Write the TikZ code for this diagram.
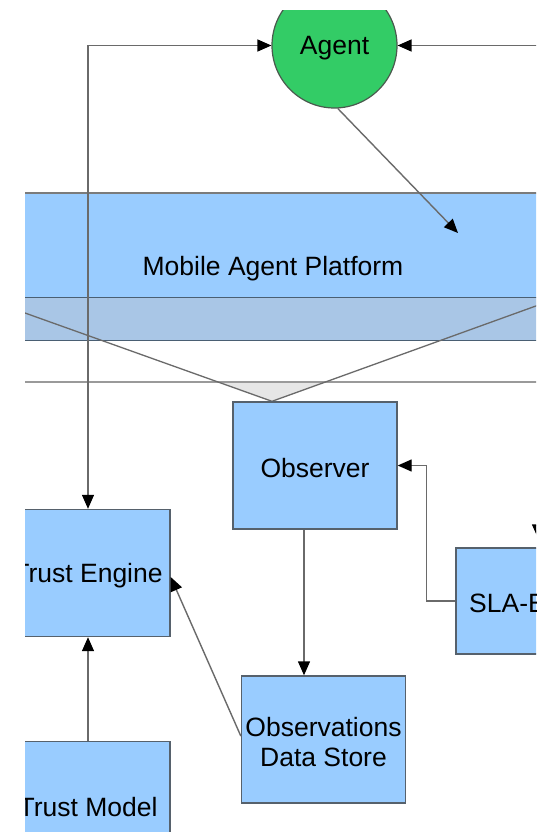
\documentclass[tikz,border=0pt]{standalone}
\usepackage{fontspec}
\setmainfont{Liberation Sans}
\usetikzlibrary{arrows.meta}
\definecolor{boxblue}{HTML}{99CCFF}
\definecolor{stripblue}{HTML}{A9C6E6}
\definecolor{agentgreen}{HTML}{33CC66}
\definecolor{agentedge}{HTML}{4A5A4E}
\definecolor{linegray}{HTML}{6A6A6A}
\definecolor{edgegray}{HTML}{56616C}
\definecolor{bandline}{HTML}{4A5F73}
\definecolor{funnelgray}{HTML}{E6E6E6}
\definecolor{ruleline}{HTML}{9A9A9A}
\pgfdeclarelayer{bgzero}
\pgfdeclarelayer{bgone}
\pgfsetlayers{bgzero,bgone,main}
\begin{document}
\begin{tikzpicture}[x=1pt,y=-1pt,
  every node/.style={font=\fontsize{26.5}{30}\selectfont, text=black},
  box/.style={draw=edgegray, line width=1.4pt, fill=boxblue,
    minimum width=164pt, minimum height=127pt, inner sep=0pt, align=center},
  agentnode/.style={circle, draw=agentedge, line width=1.2pt, fill=agentgreen,
    minimum size=125pt, inner sep=0pt},
  platform/.style={rectangle, fill=boxblue, minimum width=579pt,
    minimum height=104pt, inner sep=0pt},
  conn/.style={draw=linegray, line width=1.4pt},
  tip/.style={-{Triangle[length=14pt,width=12pt,color=black]}},
  tips/.style={{Triangle[length=14pt,width=12pt,color=black]}-{Triangle[length=14pt,width=12pt,color=black]}},
  funnel/.style={draw=linegray, line width=1.3pt},
  label lower/.style={yshift=-2.5pt}
]
\useasboundingbox (0,0) rectangle (536,832);
\clip (25,11) rectangle (536,832);

% components
\node[agentnode] (agent) at (334.5,45.5) {};
\node[label lower] (agenttext) at (agent) {Agent};
\node[box] (obs) at (315,465.5) {};
\node[label lower] (obstext) at (obs) {Observer};
\node[box] (te) at (88,573) {};
\node[label lower] (tetext) at (te) {Trust Engine};
\node[box] (tm) at (88,805) {};
\node[label lower] (tmtext) at (tm) {Trust Model};
\node[box] (ods) at (323.5,739.5) {};
\node[label lower, align=center] (odstext) at (ods) {Observations\\Data Store};
\node[box, minimum height=106pt] (sla) at (538,601) {};
\node[anchor=west, inner sep=0pt, label lower] (slatext) at (469,601) {SLA-E};
\coordinate (apex) at ([xshift=-43pt]obs.north);
\coordinate (mapin) at (458,233);

% platform band with its funnel towards the observer
\begin{pgfonlayer}{bgone}
  \begin{scope}
    \clip (25,11) rectangle (536,832);
    \node[platform] (map) at (270.5,245) {};
    \node (maplabel) at (273,269) {Mobile Agent Platform};
    \fill[stripblue] (map.south west) rectangle ++(579,43);
    \draw[ruleline!80!black, line width=1.4pt] (map.north west) -- (map.north east);
    \draw[bandline, line width=1.4pt] (map.south west) -- (map.south east);
    \draw[bandline, line width=1.4pt] ([yshift=-43pt]map.south west) -- ([yshift=-43pt]map.south east);
    \draw[funnel] (map.south west) -- (apex) -- (map.south east);
  \end{scope}
\end{pgfonlayer}
\begin{pgfonlayer}{bgzero}
  \fill[white] (0,0) rectangle (536,832);
  \begin{scope}
    \clip (25,11) rectangle (536,832);
    \fill[funnelgray] (map.south west) -- (apex) -- (map.south east) -- cycle;
    \fill[white] (-30,340) rectangle (600,382);
    \draw[ruleline, line width=1.4pt] (-30,382) -- (600,382);
  \end{scope}
\end{pgfonlayer}

% connectors
\draw[conn,tips] (agent.west) -| (te.north);
\draw[conn,tips,shorten >=9pt] (agent.east) -| (sla.north);
\draw[conn,tip] (agent.-87) -- (mapin);
\draw[conn,tip] (tm.north) -- (te.south);
\draw[conn,tip] ([xshift=-11pt]obs.south) -- ([xshift=-11pt]obs.south |- ods.north);
\draw[conn,tip] ([yshift=3.5pt]ods.west) -- ([yshift=-4pt]te.east);
\draw[conn,tip] (sla.west) -- ++(-29,0) |- (obs.east);
\end{tikzpicture}
\end{document}
